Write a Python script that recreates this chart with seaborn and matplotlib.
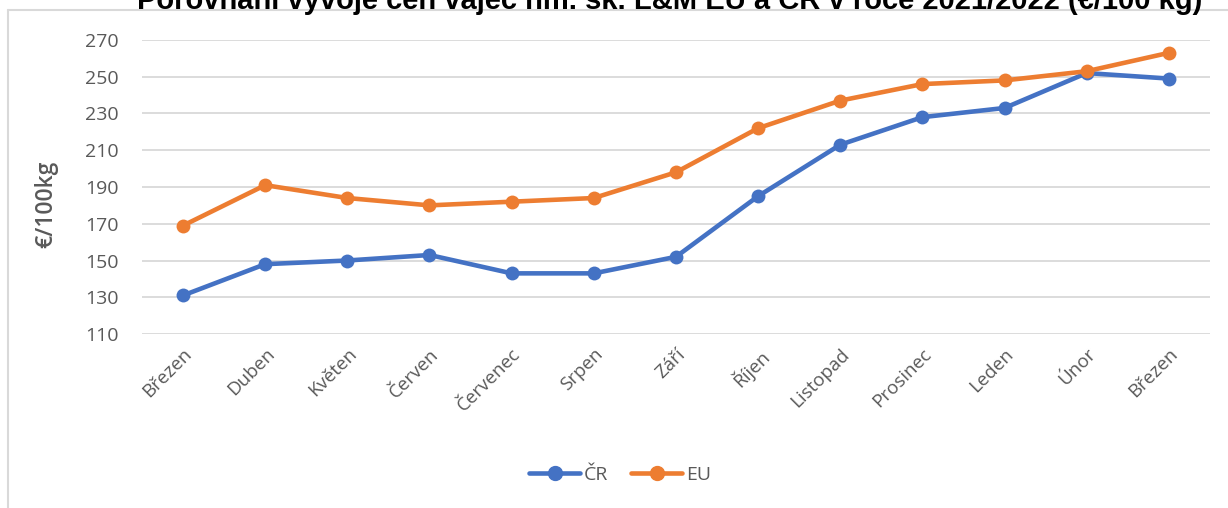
import numpy as np
import pandas as pd
import seaborn as sns
import matplotlib.pyplot as plt
from matplotlib.lines import Line2D

# data
months = ['Březen', 'Duben', 'Květen', 'Červen', 'Červenec', 'Srpen', 'Září',
          'Říjen', 'Listopad', 'Prosinec', 'Leden', 'Únor', 'Březen']
cr_values = [131, 148, 150, 153, 143, 143, 152, 185, 213, 228, 233, 252, 249]
eu_values = [169, 191, 184, 180, 182, 184, 198, 222, 237, 246, 248, 253, 263]
yticks = list(range(110, 271, 20))

pos = np.arange(len(months))
df = pd.DataFrame({
    'pos': np.concatenate([pos, pos]),
    'value': cr_values + eu_values,
    'series': ['ČR'] * len(pos) + ['EU'] * len(pos),
})

sns.set_theme(style='white')
plt.rcParams['font.family'] = ['Open Sans', 'DejaVu Sans']
text_col = '#595959'

fig = plt.figure(figsize=(12.28, 5.08), dpi=100)
ax = fig.add_axes([0.1156, 0.3425, 0.8697, 0.5788])

sns.lineplot(data=df, x='pos', y='value', hue='series',
             palette={'ČR': '#4472C4', 'EU': '#ED7D31'},
             marker='o', markersize=10, markeredgewidth=0,
             linewidth=3.3, ax=ax, legend=False, zorder=3)

ax.set_xlim(-0.5, len(months) - 0.5)
ax.set_ylim(110, 270)
ax.set_yticks(yticks)
ax.set_xticks(pos)
ax.set_xticklabels(months, rotation=45, ha='right', rotation_mode='anchor')
ax.tick_params(axis='both', length=0, labelcolor=text_col)
ax.tick_params(axis='y', pad=17, labelsize=14)
ax.tick_params(axis='x', pad=8, labelsize=13.5)
ax.grid(axis='y', color='#d9d9d9', linewidth=1.3)
for s in ax.spines.values():
    s.set_visible(False)
ax.set_xlabel('')
ax.set_ylabel('€/100kg', fontsize=16.5, color=text_col, fontweight='semibold')
ax.yaxis.set_label_coords(-0.078, 0.44)

# chart frame (top and left edge visible)
fig.add_artist(Line2D([8 / 1228, 8 / 1228], [0, 1 - 10 / 508], color='#d9d9d9', linewidth=1.5))
fig.add_artist(Line2D([8 / 1228, 1], [1 - 10 / 508, 1 - 10 / 508], color='#d9d9d9', linewidth=1.5))

# title, cut off at the top like the original
fig.text(0.545, 1 - 9 / 508, 'Porovnání vývoje cen vajec hm. sk. L&M EU a ČR v roce 2021/2022 (€/100 kg)',
         ha='center', va='baseline', fontsize=21, fontweight='bold',
         family=['Liberation Sans', 'DejaVu Sans'], color='black')

handles = [Line2D([], [], color='#4472C4', marker='o', markersize=10, linewidth=3.3),
           Line2D([], [], color='#ED7D31', marker='o', markersize=10, linewidth=3.3)]
fig.legend(handles, ['ČR', 'EU'], loc='center', bbox_to_anchor=(0.505, 1 - 475 / 508),
           ncol=2, frameon=False, fontsize=14, labelcolor=text_col,
           handlelength=2.6, columnspacing=1.2, handletextpad=0.2)

fig.savefig('out.png', dpi=100, facecolor='white')
